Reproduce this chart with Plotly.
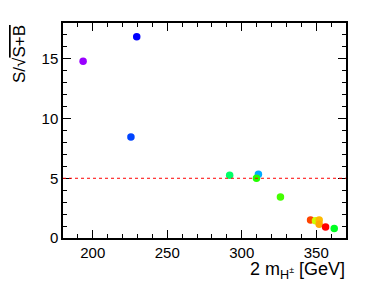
import plotly.graph_objects as go

mass = [193.5, 229.5, 225.6, 291.9, 311.2, 309.9, 326.0, 346.2, 349.5, 352.0, 352.0, 356.3, 362.1]
signif = [14.8, 16.85, 8.45, 5.25, 5.34, 5.0, 3.43, 1.5, 1.44, 1.5, 1.16, 0.93, 0.8]
colors = ["#9900ff", "#0000ff", "#0044ff", "#00ff66", "#00aaff", "#22ff00", "#44ff00",
          "#ff4400", "#ccff00", "#ffbb00", "#ffaa00", "#ff0000", "#00ff22"]
threshold = 5
x_range = [180, 370]
y_range = [0, 18]

fig = go.Figure()
fig.add_trace(go.Scatter(x=mass, y=signif, mode="markers",
                         marker=dict(color=colors, size=7.5, line=dict(width=0)),
                         showlegend=False))
fig.add_shape(type="line", xref="x", yref="y", x0=x_range[0], x1=x_range[1],
              y0=threshold, y1=threshold, line=dict(color="red", width=1, dash="dot"))

axis_common = dict(showline=True, linecolor="black", linewidth=1.5, mirror="allticks",
                   ticks="inside", ticklen=8, tickwidth=1, tickcolor="black",
                   showgrid=False, zeroline=False, automargin=False,
                   tickfont=dict(family="Liberation Sans", size=15, color="black"))
fig.update_xaxes(range=x_range, tick0=0, dtick=50,
                 minor=dict(ticks="inside", ticklen=4, dtick=10, tickcolor="black", showgrid=False),
                 **axis_common)
fig.update_yaxes(range=y_range, tick0=0, dtick=5,
                 minor=dict(ticks="inside", ticklen=4, dtick=1, tickcolor="black", showgrid=False),
                 **axis_common)

fig.add_annotation(xref="paper", yref="paper", x=1, y=0, yshift=-32, xanchor="right", yanchor="middle",
                   text="2 m<sub>H<sup>±</sup></sub> [GeV]", showarrow=False, borderpad=0,
                   font=dict(family="Liberation Sans", size=18, color="black"))
fig.add_annotation(xref="paper", yref="paper", x=0, y=1, xshift=-44, xanchor="center", yanchor="top",
                   textangle=-90,
                   text="S/√<span style='text-decoration:overline'>S+B</span>", showarrow=False,
                   font=dict(family="Liberation Sans", size=17, color="black"))

fig.update_layout(width=376, height=291, margin=dict(l=63, r=30, t=23, b=53),
                  plot_bgcolor="white", paper_bgcolor="white")
fig.write_html("out.html", config={"displayModeBar": False},
               post_script="document.body.style.margin='0';")
